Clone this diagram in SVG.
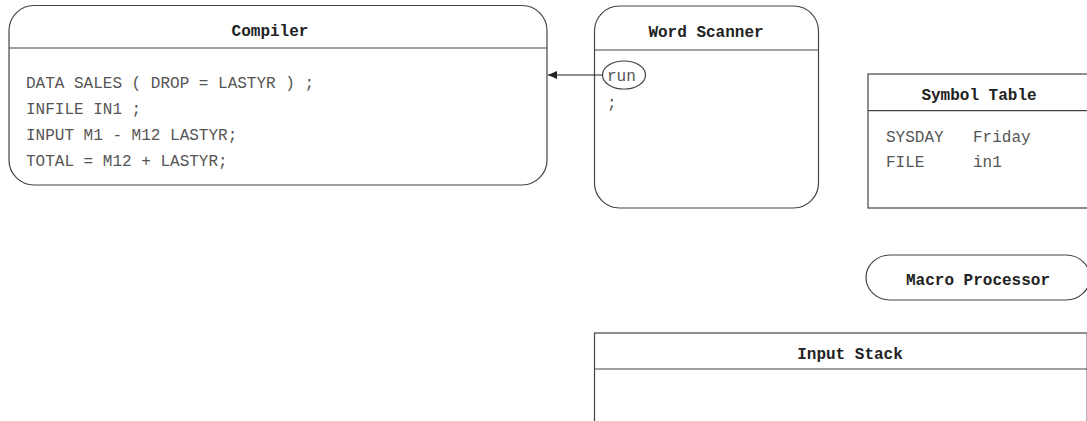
<svg xmlns="http://www.w3.org/2000/svg" width="1087" height="421" viewBox="0 0 1087 421">
<defs>
<style>
.box{fill:#fff;stroke:#444;stroke-width:1.2}
.div{stroke:#444;stroke-width:1.2;fill:none}
.title{font-family:"Liberation Mono",monospace;font-weight:bold;font-size:16px;fill:#222}
.body{font-family:"Liberation Mono",monospace;font-size:16px;fill:#555}
.conn{stroke:#222;stroke-width:1.2;fill:none}
</style>
<marker id="arr" markerWidth="10" markerHeight="10" refX="9" refY="5" orient="auto" markerUnits="userSpaceOnUse">
<path d="M0,1 L9,5 L0,9 Z" fill="#222"/>
</marker>
</defs>
<rect width="1087" height="421" fill="#fff"/>
<g id="compiler">
<rect class="box" x="9" y="5.5" width="538" height="179.5" rx="25" ry="25"/>
<line class="div" x1="9" y1="48" x2="547" y2="48"/>
<text class="title" x="270" y="36" text-anchor="middle">Compiler</text>
<text class="body" x="26" y="88">DATA SALES ( DROP = LASTYR ) ;</text>
<text class="body" x="26" y="114">INFILE IN1 ;</text>
<text class="body" x="26" y="140">INPUT M1 - M12 LASTYR;</text>
<text class="body" x="26" y="166">TOTAL = M12 + LASTYR;</text>
</g>
<g id="word-scanner">
<rect class="box" x="594.5" y="6" width="224" height="202" rx="25" ry="25"/>
<line class="div" x1="594.5" y1="50" x2="818.5" y2="50"/>
<text class="title" x="706" y="37" text-anchor="middle">Word Scanner</text>
<ellipse class="box" cx="624" cy="75" rx="21.5" ry="14"/>
<text class="body" x="607" y="81">run</text>
<text class="body" x="607" y="108">;</text>
</g>
<g id="symbol-table">
<rect class="box" x="868" y="74" width="222" height="134"/>
<line class="div" x1="868" y1="110.7" x2="1090" y2="110.7"/>
<text class="title" x="979" y="100" text-anchor="middle">Symbol Table</text>
<text class="body" x="886" y="142">SYSDAY</text>
<text class="body" x="973" y="142">Friday</text>
<text class="body" x="886" y="167">FILE</text>
<text class="body" x="973" y="167">in1</text>
</g>
<g id="macro-processor">
<rect class="box" x="866" y="255" width="224" height="45" rx="24" ry="22.5"/>
<text class="title" x="978" y="285" text-anchor="middle">Macro Processor</text>
</g>
<g id="input-stack">
<rect class="box" x="594.5" y="333" width="492.7" height="110"/>
<line class="div" x1="594.5" y1="369" x2="1087.2" y2="369"/>
<text class="title" x="850" y="359" text-anchor="middle">Input Stack</text>
</g>
<g id="connectors">
<line class="conn" x1="602.5" y1="75" x2="548" y2="75" marker-end="url(#arr)"/>
</g>
</svg>
